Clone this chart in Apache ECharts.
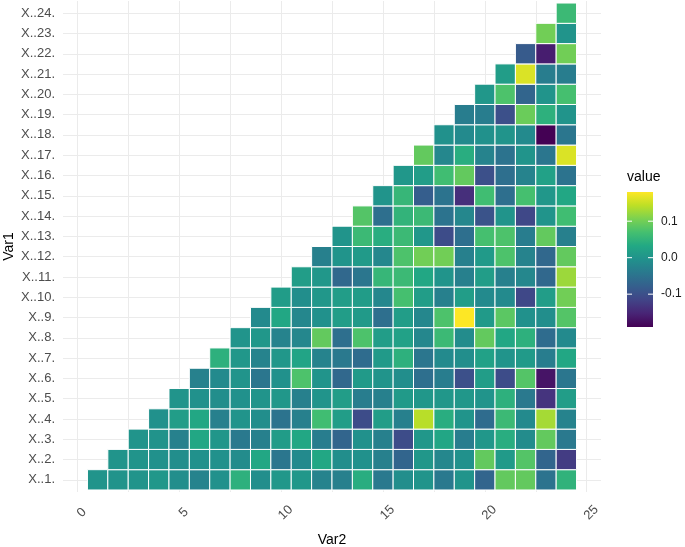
<!DOCTYPE html>
<html>
<head>
<meta charset="utf-8">
<script src="https://cdn.jsdelivr.net/npm/echarts@6/dist/echarts.min.js"></script>
<style>
  html, body { margin: 0; padding: 0; background: #ffffff; }
  #chart { width: 685px; height: 547px; }
</style>
</head>
<body>
<div id="chart"></div>
<script>
// row labels (Var1), bottom to top
const yLabels = ['X..1.', 'X..2.', 'X..3.', 'X..4.', 'X..5.', 'X..6.', 'X..7.', 'X..8.',
  'X..9.', 'X..10.', 'X..11.', 'X..12.', 'X..13.', 'X..14.', 'X..15.', 'X..16.',
  'X..17.', 'X..18.', 'X..19.', 'X..20.', 'X..21.', 'X..22.', 'X..23.', 'X..24.']

// each row i holds the values for Var2 = i .. 24 (upper triangle)
const row1 = [0.0, -0.002, 0.0, 0.005, -0.01, -0.025, -0.005, 0.045, -0.01, 0.005, 0.005, -0.025, -0.03, 0.04, -0.04, -0.01, 0.0, -0.04, 0.0, -0.07, 0.09, 0.09, -0.05, 0.048]
const row2 = [0.0, 0.0, -0.005, -0.01, -0.005, -0.005, -0.012, 0.03, -0.045, -0.015, 0.03, -0.01, -0.005, -0.03, -0.07, 0.005, -0.02, -0.005, 0.09, 0.01, 0.08, -0.07, -0.125]
const row3 = [0.0, -0.002, -0.028, 0.03, 0.003, -0.04, -0.03, 0.012, 0.03, -0.035, -0.07, -0.005, -0.03, -0.105, 0.005, 0.028, -0.035, 0.005, 0.04, -0.012, 0.09, -0.04]
const row4 = [-0.005, 0.015, 0.03, -0.03, 0.0, -0.01, -0.05, -0.03, 0.065, 0.015, -0.105, 0.015, -0.03, 0.14, 0.04, 0.0, -0.06, 0.06, -0.015, 0.13, -0.025]
const row5 = [0.0, -0.005, -0.01, -0.005, 0.0, 0.005, -0.03, 0.0, 0.015, -0.035, -0.03, 0.01, 0.005, 0.005, 0.005, 0.0, 0.045, -0.04, -0.135, 0.015]
const row6 = [-0.028, -0.015, 0.0, -0.045, -0.005, 0.075, 0.0, -0.065, 0.01, 0.0, -0.01, -0.055, -0.035, -0.1, 0.015, -0.105, 0.08, -0.17, -0.045]
const row7 = [0.045, 0.005, -0.025, 0.005, 0.025, -0.025, -0.04, -0.06, 0.01, 0.045, -0.045, -0.015, -0.01, 0.02, 0.0, 0.01, -0.035, 0.03]
const row8 = [0.0, 0.005, -0.025, -0.02, 0.09, -0.055, 0.075, 0.015, 0.02, -0.02, 0.06, -0.012, 0.09, 0.03, 0.045, -0.06, -0.015]
const row9 = [-0.015, 0.03, -0.02, -0.005, 0.015, 0.01, -0.055, 0.015, -0.02, 0.075, 0.18, 0.01, 0.085, -0.005, -0.01, 0.08]
const row10 = [0.012, -0.01, 0.005, 0.015, 0.012, -0.02, 0.07, 0.015, -0.03, 0.015, -0.015, -0.015, -0.11, 0.015, 0.10]
const row11 = [0.015, 0.005, -0.065, -0.045, 0.055, 0.06, 0.03, 0.0, -0.03, 0.015, -0.03, -0.02, -0.065, 0.125]
const row12 = [-0.03, 0.0, 0.01, -0.02, 0.075, 0.10, 0.10, -0.03, 0.01, 0.075, -0.025, -0.065, 0.09]
const row13 = [0.0, 0.06, 0.04, 0.06, 0.005, -0.105, -0.055, 0.07, 0.075, -0.035, 0.09, -0.03]
const row14 = [0.08, -0.055, 0.05, 0.06, -0.05, -0.02, -0.095, 0.0, -0.11, 0.0, 0.065]
const row15 = [0.0, 0.055, -0.08, -0.05, -0.14, 0.065, -0.055, 0.07, 0.005, 0.03]
const row16 = [0.005, 0.015, 0.065, 0.09, -0.1, -0.055, -0.025, 0.02, -0.05]
const row17 = [0.09, -0.02, 0.04, -0.025, -0.05, 0.0, -0.045, 0.16]
const row18 = [-0.005, -0.015, -0.005, 0.0, -0.015, -0.19, -0.045]
const row19 = [-0.035, -0.035, -0.1, 0.095, 0.045, 0.0]
const row20 = [0.005, 0.075, -0.07, 0.0, 0.07]
const row21 = [0.015, 0.16, -0.035, -0.035]
const row22 = [-0.085, -0.16, 0.10]
const row23 = [0.10, 0.0]
const row24 = [0.06]

const rows = [row1, row2, row3, row4, row5, row6, row7, row8, row9, row10, row11, row12,
  row13, row14, row15, row16, row17, row18, row19, row20, row21, row22, row23, row24]

// colour scale
const colorMin = -0.19
const colorMax = 0.18
const legendTicks = [0.1, 0.0, -0.1]
const legendTickLabels = ['0.1', '0.0', '-0.1']
const viridis = ['#440154', '#482475', '#414487', '#355F8D', '#2A788E', '#21918C',
  '#22A884', '#44BF70', '#7AD151', '#BDDF26', '#FDE725']

// [Var2, Var1 index, value]
const cells = []
rows.forEach((vals, r) => {
  vals.forEach((v, k) => {
    cells.push([r + 1 + k, r + 1, v])
  })
})

const chart = echarts.init(document.getElementById('chart'))

// legend colour bar, drawn by hand to look like ggplot's colourbar
const legendLeft = 627
const legendTop = 192
const legendBottom = 327
const legendWidth = 26
const tickY = v => legendBottom - (v - colorMin) / (colorMax - colorMin) * (legendBottom - legendTop)

const legendGraphics = [
  {
    type: 'text', left: legendLeft, top: 170,
    style: { text: 'value', font: '14px "Liberation Sans", Arial, sans-serif', fill: '#000000' }
  },
  {
    type: 'rect',
    shape: { x: legendLeft, y: legendTop, width: legendWidth, height: legendBottom - legendTop },
    style: {
      fill: new echarts.graphic.LinearGradient(0, 0, 0, 1,
        viridis.slice().reverse().map((c, i) => ({ offset: i / (viridis.length - 1), color: c })))
    }
  }
]
legendTicks.forEach((t, i) => {
  const y = tickY(t)
  legendGraphics.push(
    { type: 'line', shape: { x1: legendLeft, y1: y, x2: legendLeft + 5, y2: y }, style: { stroke: '#ffffff', lineWidth: 1 } },
    { type: 'line', shape: { x1: legendLeft + legendWidth - 5, y1: y, x2: legendLeft + legendWidth, y2: y }, style: { stroke: '#ffffff', lineWidth: 1 } },
    {
      type: 'text', x: legendLeft + legendWidth + 8, y: y,
      style: { text: legendTickLabels[i], font: '12px "Liberation Sans", Arial, sans-serif', fill: '#1a1a1a', verticalAlign: 'middle' }
    }
  )
})

const gridLine = { show: true, showMinLine: false, showMaxLine: false, lineStyle: { color: '#EBEBEB', width: 1 } }

const option = {
  backgroundColor: '#ffffff',
  animation: false,
  grid: { left: 63, right: 84, top: 1, bottom: 55, containLabel: false, outerBoundsMode: 'none' },
  xAxis: {
    type: 'value',
    min: -0.7,
    max: 25.7,
    minInterval: 2.5,
    maxInterval: 2.5,
    name: 'Var2',
    nameLocation: 'middle',
    nameGap: 41,
    nameMoveOverlap: false,
    nameTextStyle: { fontFamily: 'Liberation Sans', fontSize: 14, color: '#000000' },
    axisLine: { show: false },
    axisTick: { show: false },
    splitLine: gridLine,
    axisLabel: {
      rotate: 45,
      align: 'center',
      verticalAlign: 'top',
      margin: 16,
      showMinLabel: false,
      showMaxLabel: false,
      fontFamily: 'Liberation Sans',
      fontSize: 13,
      color: '#4D4D4D',
      formatter: v => (Math.abs(v % 5) < 1e-9 ? String(v) : '')
    }
  },
  yAxis: {
    type: 'value',
    min: 0.4,
    max: 24.6,
    minInterval: 1,
    maxInterval: 1,
    name: 'Var1',
    nameLocation: 'middle',
    nameGap: 47,
    nameMoveOverlap: false,
    nameRotate: 90,
    nameTextStyle: { fontFamily: 'Liberation Sans', fontSize: 14, color: '#000000' },
    axisLine: { show: false },
    axisTick: { show: false },
    splitLine: gridLine,
    axisLabel: {
      margin: 8,
      showMinLabel: false,
      showMaxLabel: false,
      fontFamily: 'Liberation Sans',
      fontSize: 13,
      color: '#4D4D4D',
      formatter: v => (Number.isInteger(v) ? yLabels[v - 1] : '')
    }
  },
  visualMap: {
    show: false,
    type: 'continuous',
    min: colorMin,
    max: colorMax,
    dimension: 2,
    seriesIndex: 0,
    inRange: { color: viridis }
  },
  graphic: legendGraphics,
  series: [
    {
      type: 'custom',
      data: cells,
      encode: { x: 0, y: 1 },
      renderItem: (params, api) => {
        const x = api.value(0)
        const y = api.value(1)
        const p0 = api.coord([x - 0.5, y + 0.5])
        const p1 = api.coord([x + 0.5, y - 0.5])
        return {
          type: 'rect',
          shape: { x: p0[0], y: p0[1], width: p1[0] - p0[0], height: p1[1] - p0[1] },
          style: { fill: api.visual('color'), stroke: '#ffffff', lineWidth: 1 }
        }
      }
    }
  ]
}

chart.setOption(option)
</script>
</body>
</html>
